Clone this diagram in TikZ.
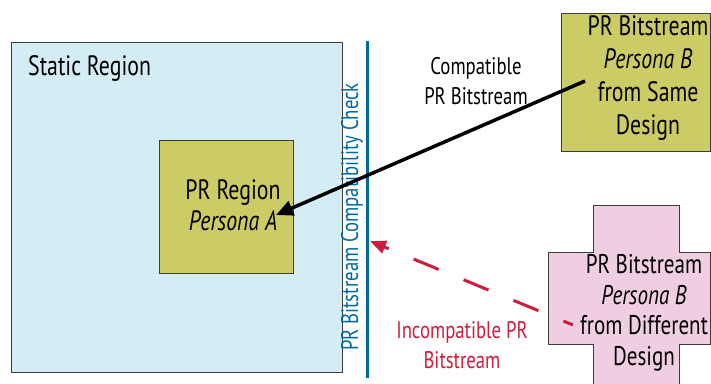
\documentclass[tikz,border=0pt]{standalone}
\usepackage{fontspec}
\setmainfont[FakeStretch=0.78]{PT Sans}
\usetikzlibrary{arrows.meta}
\definecolor{staticfill}{RGB}{212,236,243}
\definecolor{olive}{RGB}{204,204,102}
\definecolor{pinkfill}{RGB}{240,206,226}
\definecolor{chkblue}{RGB}{0,104,160}
\definecolor{incred}{RGB}{204,30,60}
\definecolor{edge}{RGB}{60,60,60}
\tikzset{
  region/.style={draw=edge, line width=0.9pt},
  boxtext/.style={align=center, inner sep=0pt, font=\fontsize{28}{31}\selectfont},
  lbltext/.style={align=center, inner sep=0pt, font=\fontsize{24}{30}\selectfont},
  okarrow/.style={line width=3.5pt, -{Triangle[length=17pt,width=15pt]}},
  badarrow/.style={line width=3pt, incred, {Triangle[length=16pt,width=13pt]}-, dash pattern=on 27pt off 27pt, dash phase=22pt}
}
\begin{document}
\begin{tikzpicture}[x=1pt,y=-1pt]
\useasboundingbox (0,0) rectangle (711,383);
\begin{scope}
\clip (0,0) rectangle (711,383);
% static region
\node[region, fill=staticfill, minimum width=331pt, minimum height=330pt, anchor=north west, inner sep=0pt] (static) at (11,42) {};
\node[boxtext, anchor=west] (statictxt) at (28,68) {Static Region};
% PR region
\node[region, fill=olive, minimum width=134pt, minimum height=133pt, anchor=north west, inner sep=0pt] (prregion) at (159,140) {};
\node[boxtext] (prtxt) at (233,205) {PR Region\\\textit{Persona A}};
% blue check line
\coordinate (chktop) at (367,41);
\coordinate (chkbot) at (367,378);
\draw[chkblue, line width=3pt] (chktop) -- (chkbot);
\node[rotate=90, text=chkblue, inner sep=0pt, font=\fontsize{24}{26}\selectfont] (chktxt) at (352,217) {PR Bitstream Compatibility Check};
% top right bitstream
\node[region, fill=olive, minimum width=149pt, minimum height=138pt, anchor=north west, inner sep=0pt] (same) at (561,13) {};
\node[boxtext, font=\fontsize{28}{33}\selectfont] (sametxt) at (648,78) {PR Bitstream\\\textit{Persona B}\\from Same\\Design};
% pink cross
\draw[region, fill=pinkfill] (593,205) -- (679,205) -- (679,252) -- (710,252) -- (710,344) -- (679,344) -- (679,395) -- (593,395) -- (593,344) -- (548,344) -- (548,252) -- (593,252) -- cycle;
\node[boxtext, font=\fontsize{27}{30.5}\selectfont] (difftxt) at (644,313) {PR Bitstream\\\textit{Persona B}\\from Different\\Design};
\end{scope}
% labels
\node[lbltext] (comptxt) at (476,81) {Compatible\\PR Bitstream};
\node[lbltext, text=incred] (inctxt) at (462,345) {Incompatible PR\\Bitstream};
% arrows
\coordinate (okstart) at (585,81);
\coordinate (oktip) at (276,215);
\draw[okarrow] (okstart) -- (oktip);
\coordinate (badstart) at (573,325);
\coordinate (badtip) at (370,241);
\draw[badarrow] (badtip) -- (badstart);
\end{tikzpicture}
\end{document}
